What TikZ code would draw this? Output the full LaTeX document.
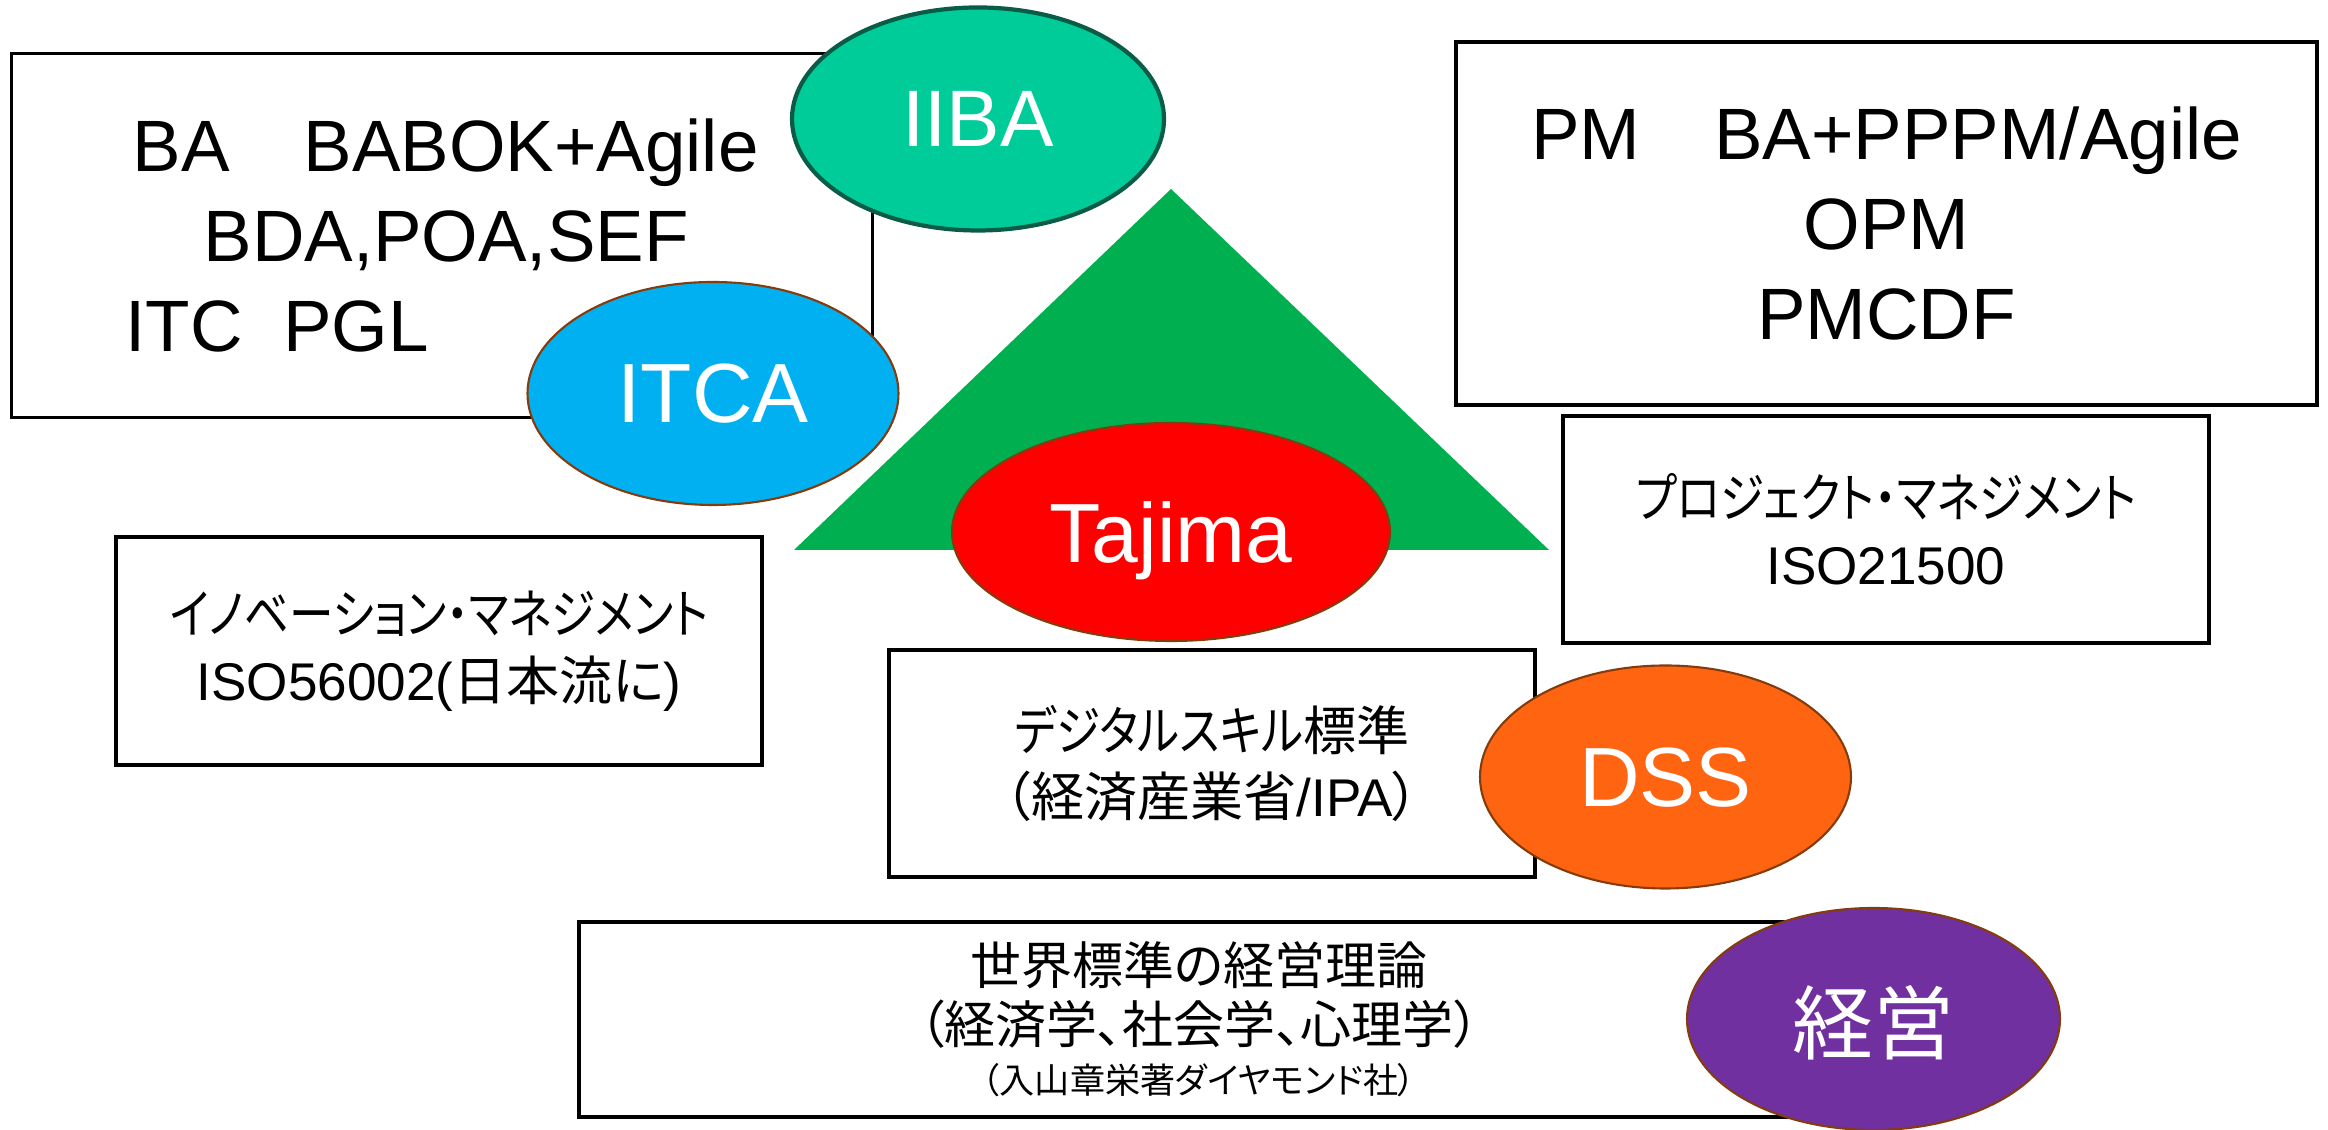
\documentclass[tikz,border=0pt]{standalone}
\usepackage{fontspec}
\setmainfont{Liberation Sans}
\newfontfamily\jp[RawFeature=+palt]{Noto Sans CJK JP}
\newfontfamily\jpc[RawFeature=+palt, FakeStretch=0.84]{Noto Sans CJK JP}
\usetikzlibrary{shapes.geometric}
\definecolor{iibafill}{HTML}{00CC99}
\definecolor{iibaline}{HTML}{0B5C47}
\definecolor{itcafill}{HTML}{00B0F0}
\definecolor{trifill}{HTML}{00B050}
\definecolor{dssfill}{HTML}{FF6411}
\definecolor{keieifill}{HTML}{7030A0}
\definecolor{blobline}{HTML}{843C0C}
\begin{document}
\begin{tikzpicture}[
        box/.style={draw=black, line width=0.9pt, fill=white, inner sep=0pt},
        bigbox/.style={box, minimum width=8.61cm, minimum height=3.64cm,
            font=\fontsize{20.7}{25.5}\selectfont},
        smallbox/.style={box, minimum width=6.46cm, minimum height=2.27cm,
            align=center, font=\fontsize{15.1}{19}\selectfont},
        blob/.style={ellipse, draw=blobline, line width=0.6pt, inner sep=0pt,
            minimum width=3.72cm, minimum height=2.23cm, text=white, text depth=0pt,
            font=\fontsize{23.9}{28}\selectfont}
    ]
        \useasboundingbox (0,0) rectangle (23.28,-11.30);
        %% BA box with IIBA and ITCA
        \node[bigbox, align=left] (ba) at (4.42,-2.355)
            {\hspace*{0.07cm}BA\hspace{0.74cm}BABOK+Agile\\
             \hspace*{0.78cm}BDA,POA,SEF\\
             ITC\ \ PGL};
        \node[blob, fill=iibafill, draw=iibaline, line width=1.2pt,
            font=\fontsize{22.8}{27}\selectfont] (iiba) at (9.78,-1.19) {IIBA};
        \node[blob, fill=itcafill, minimum width=3.71cm] (itca) at (7.13,-3.935) {ITCA};
        %% PM box
        \node[bigbox, align=center, minimum height=3.63cm] (pm) at (18.865,-2.235)
            {PM\hspace{0.74cm}BA+PPPM/Agile\\ OPM\\ PMCDF};
        %% Triangle and Tajima
        \fill[trifill] (11.71,-1.89) -- (7.94,-5.50) -- (15.49,-5.50) -- cycle;
        \node[blob, fill=red, minimum width=4.38cm, minimum height=2.18cm] (tajima)
            at (11.71,-5.32) {Tajima};
        %% Standards
        \node[smallbox] (iso21500) at (18.86,-5.295)
            {{\jpc プロジェクト・マネジメント}\\ ISO21500};
        \node[smallbox, minimum height=2.28cm] (iso56002) at (4.39,-6.51)
            {{\jpc イノベーション・マネジメント}\\ ISO56002({\jp 日本流に})};
        \node[smallbox] (dsskill) at (12.12,-7.635)
            {{\jpc デジタルスキル}{\jp 標準}\\ {\jp （経済産業省}/IPA{\jp ）}};
        \node[blob, fill=dssfill, minimum width=3.71cm] (dss) at (16.655,-7.77) {DSS};
        %% Management theory
        \node[box, minimum width=12.40cm, minimum height=1.95cm, align=center,
            font=\jp\fontsize{14.5}{16.8}\selectfont] (theory) at (11.99,-10.195)
            {世界標準の経営理論\\ （経済学、社会学、心理学）\\[-2.6pt]
             {\fontsize{10}{12}\selectfont （入山章栄著ダイヤモンド社）}};
        \node[blob, fill=keieifill, minimum width=3.73cm, minimum height=2.22cm,
            font=\jp\fontsize{23}{28}\selectfont] (keiei) at (18.735,-10.19) {経営};
    \end{tikzpicture}
\end{document}
